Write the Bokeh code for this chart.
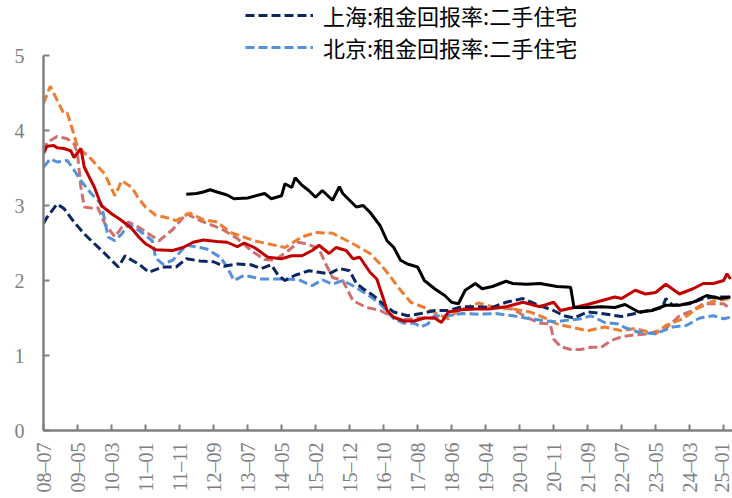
import math
from bokeh.plotting import figure
from bokeh.models import Range1d, FixedTicker, Legend, LegendItem
from bokeh.embed import file_html
from bokeh.resources import INLINE

# x tick labels (every 10th monthly category)
tick_labels = ["08–07", "09–05", "10–03", "11–01", "11–11", "12–09", "13–07",
               "14–05", "15–02", "15–12", "16–10", "17–08", "18–06", "19–04",
               "20–01", "20–11", "21–09", "22–07", "23–05", "24–03", "25–01"]

# 上海:租金回报率:二手住宅 (dark navy dashed)
sh_x = [0, 1, 4, 6, 9, 12, 15, 18, 20, 22, 24, 26, 28, 31, 35, 39, 42, 46, 50, 53,
        57, 61, 64, 67, 69, 71, 74, 78, 81, 84, 87, 90, 92, 94, 97, 100, 103, 107,
        111, 115, 119, 123, 128, 132, 136, 141, 145, 150, 153, 156, 160, 164, 170,
        174, 178, 182, 183, 185, 190, 194, 198, 202]
sh_y = [2.76, 2.84, 3.02, 2.96, 2.78, 2.62, 2.49, 2.36, 2.27, 2.18, 2.33, 2.27, 2.22,
        2.11, 2.18, 2.18, 2.29, 2.26, 2.25, 2.19, 2.22, 2.21, 2.16, 2.21, 2.07, 2.00,
        2.07, 2.13, 2.11, 2.09, 2.16, 2.13, 1.96, 1.89, 1.80, 1.68, 1.58, 1.53, 1.56,
        1.60, 1.60, 1.65, 1.65, 1.64, 1.71, 1.76, 1.68, 1.60, 1.53, 1.50, 1.58, 1.56,
        1.52, 1.56, 1.60, 1.64, 1.76, 1.67, 1.69, 1.76, 1.78, 1.78]

# 北京:租金回报率:二手住宅 (light blue dashed)
bj_x = [0, 2, 4, 7, 9, 11, 14, 17, 19, 21, 23, 25, 28, 32, 33, 35, 38, 42, 46, 48,
        52, 54, 56, 59, 64, 71, 75, 79, 82, 85, 88, 91, 95, 99, 103, 106, 109, 111,
        113, 115, 119, 123, 128, 133, 138, 143, 148, 151, 154, 158, 161, 165, 169,
        171, 175, 180, 185, 189, 193, 197, 200, 202]
bj_y = [3.51, 3.62, 3.58, 3.60, 3.47, 3.33, 3.16, 3.02, 2.58, 2.53, 2.62, 2.75, 2.67,
        2.53, 2.30, 2.22, 2.27, 2.47, 2.44, 2.42, 2.31, 2.18, 2.00, 2.07, 2.02, 2.02,
        2.01, 1.93, 2.01, 1.95, 2.00, 1.93, 1.82, 1.69, 1.49, 1.43, 1.43, 1.38, 1.42,
        1.53, 1.53, 1.56, 1.55, 1.56, 1.53, 1.49, 1.46, 1.45, 1.47, 1.49, 1.53, 1.44,
        1.42, 1.37, 1.31, 1.29, 1.38, 1.40, 1.50, 1.53, 1.49, 1.51]

# orange dashed series
or_x = [0, 2, 6, 7, 8, 10, 14, 18, 21, 23, 26, 28, 30, 33, 36, 39, 43, 47, 51, 55,
        62, 71, 76, 80, 85, 88, 91, 96, 99, 101, 105, 108, 112, 117, 119, 122, 125,
        128, 132, 138, 143, 147, 151, 155, 160, 165, 170, 174, 180, 183, 188, 192,
        197, 202]
or_y = [4.36, 4.59, 4.22, 4.23, 4.09, 3.78, 3.62, 3.42, 3.13, 3.33, 3.24, 3.09, 2.98,
        2.87, 2.84, 2.80, 2.90, 2.81, 2.78, 2.64, 2.53, 2.44, 2.58, 2.64, 2.63, 2.56,
        2.49, 2.36, 2.22, 2.11, 1.87, 1.71, 1.64, 1.53, 1.49, 1.60, 1.65, 1.70, 1.65,
        1.62, 1.58, 1.51, 1.42, 1.38, 1.33, 1.38, 1.33, 1.36, 1.29, 1.40, 1.49, 1.62,
        1.73, 1.76]

# pink dashed series
pk_x = [0, 1, 4, 7, 9, 10, 11, 12, 15, 16, 18, 21, 23, 25, 28, 31, 34, 38, 42, 46,
        50, 53, 57, 61, 65, 68, 72, 75, 78, 81, 83, 85, 88, 91, 95, 99, 102, 105,
        110, 118, 122, 128, 133, 138, 142, 146, 149, 150, 152, 155, 158, 161, 164,
        167, 170, 173, 178, 183, 187, 191, 194, 197, 200, 202]
pk_y = [3.72, 3.84, 3.92, 3.89, 3.82, 3.69, 3.24, 2.98, 2.96, 2.97, 2.76, 2.58, 2.71,
        2.78, 2.71, 2.62, 2.53, 2.68, 2.89, 2.80, 2.73, 2.67, 2.56, 2.40, 2.28, 2.27,
        2.40, 2.51, 2.48, 2.42, 2.22, 2.04, 2.00, 1.73, 1.64, 1.60, 1.53, 1.47, 1.50,
        1.50, 1.64, 1.64, 1.64, 1.62, 1.51, 1.43, 1.42, 1.22, 1.12, 1.08, 1.08, 1.11,
        1.11, 1.20, 1.25, 1.27, 1.29, 1.36, 1.53, 1.60, 1.69, 1.69, 1.69, 1.62]

# red solid series
rd_x = [0, 1, 3, 4, 6, 8, 9, 11, 12, 15, 17, 20, 23, 26, 28, 30, 33, 38, 41, 44, 47,
        51, 54, 57, 59, 62, 66, 70, 73, 76, 79, 81, 84, 86, 89, 91, 93, 96, 98, 100,
        101, 103, 106, 109, 112, 115, 117, 119, 123, 127, 131, 136, 141, 146, 150,
        152, 156, 160, 164, 168, 170, 174, 177, 180, 183, 187, 191, 194, 197, 200,
        201, 202]
rd_y = [3.69, 3.79, 3.80, 3.77, 3.76, 3.73, 3.64, 3.76, 3.51, 3.24, 3.00, 2.89, 2.80,
        2.69, 2.58, 2.49, 2.41, 2.40, 2.44, 2.51, 2.54, 2.52, 2.51, 2.45, 2.50, 2.44,
        2.31, 2.29, 2.33, 2.33, 2.40, 2.47, 2.36, 2.44, 2.40, 2.29, 2.31, 2.11, 2.02,
        1.75, 1.60, 1.51, 1.46, 1.46, 1.50, 1.50, 1.44, 1.58, 1.61, 1.62, 1.62, 1.65,
        1.71, 1.65, 1.71, 1.60, 1.64, 1.68, 1.73, 1.78, 1.76, 1.87, 1.82, 1.84, 1.95,
        1.82, 1.89, 1.96, 1.96, 2.00, 2.09, 2.02]

# black solid series
bk_x = [42, 45, 47, 49, 51, 54, 56, 60, 65, 67, 70, 71, 73, 74, 76, 78, 80, 82, 85,
        87, 88, 92, 94, 96, 99, 101, 103, 105, 107, 110, 112, 115, 118, 120, 122, 124,
        127, 129, 132, 136, 138, 142, 146, 151, 155, 156, 160, 164, 168, 171, 175,
        179, 183, 187, 191, 195, 199, 202]
bk_y = [3.15, 3.16, 3.18, 3.21, 3.18, 3.14, 3.09, 3.10, 3.16, 3.09, 3.13, 3.29, 3.24,
        3.37, 3.27, 3.20, 3.11, 3.20, 3.07, 3.25, 3.16, 2.98, 3.00, 2.91, 2.73, 2.53,
        2.44, 2.27, 2.22, 2.18, 2.00, 1.89, 1.80, 1.71, 1.69, 1.87, 1.96, 1.89, 1.92,
        1.99, 1.96, 1.95, 1.96, 1.92, 1.91, 1.64, 1.64, 1.65, 1.64, 1.68, 1.58, 1.60,
        1.67, 1.67, 1.71, 1.80, 1.76, 1.78]

y_ticks = [0, 1, 2, 3, 4, 5]

# frame spans the whole height above the x axis; the y axis line stops at 5
p = figure(width=732, height=498, output_backend="svg", toolbar_location=None,
           x_range=Range1d(0, 202.6), y_range=Range1d(0, 430 / 75),
           min_border_left=43, min_border_right=0, min_border_top=0,
           min_border_bottom=68)
p.outline_line_color = None
p.grid.visible = False
p.background_fill_color = "white"

gray = "#7f7f7f"
for ax in (p.xaxis, p.yaxis):
    ax.axis_line_color = "#808080"
    ax.axis_line_width = 2.5
    ax.major_tick_line_color = "#808080"
    ax.major_tick_line_width = 2
    ax.major_tick_in = 6
    ax.major_tick_out = 0
    ax.minor_tick_line_color = None
    ax.major_label_text_font = "Liberation Serif"
    ax.major_label_text_font_size = "20px"
    ax.major_label_text_color = gray

p.yaxis.ticker = FixedTicker(ticks=y_ticks)
p.yaxis.bounds = (0, 5)
p.yaxis.major_label_standoff = 19
p.xaxis.ticker = FixedTicker(ticks=[i * 10 for i in range(len(tick_labels))])
p.xaxis.major_label_overrides = {i * 10: lab for i, lab in enumerate(tick_labels)}
p.xaxis.major_label_orientation = math.pi / 2
p.xaxis.major_label_standoff = 12

dash = "9 4"
p.line(pk_x, pk_y, line_color="#D0706E", line_width=3, line_dash=dash)
p.line(or_x, or_y, line_color="#ED7D31", line_width=3, line_dash=dash)
r_bj = p.line(bj_x, bj_y, line_color="#5590DA", line_width=3, line_dash=dash)
r_sh = p.line(sh_x, sh_y, line_color="#0B2660", line_width=3, line_dash=dash)
p.line(rd_x, rd_y, line_color="#C00000", line_width=3)
p.line(bk_x, bk_y, line_color="#000000", line_width=3)

legend = Legend(items=[LegendItem(label="上海:租金回报率:二手住宅", renderers=[r_sh]),
                       LegendItem(label="北京:租金回报率:二手住宅", renderers=[r_bj])],
                location=(202, 367), orientation="vertical",
                label_text_font="Noto Sans CJK SC", label_text_font_size="22px",
                label_text_color="#000000",
                glyph_width=68, glyph_height=30, label_height=30, spacing=0,
                padding=0, margin=0, label_standoff=10,
                border_line_color=None, background_fill_alpha=0)
p.add_layout(legend, "center")

open("out.html", "w").write(file_html(p, INLINE))
